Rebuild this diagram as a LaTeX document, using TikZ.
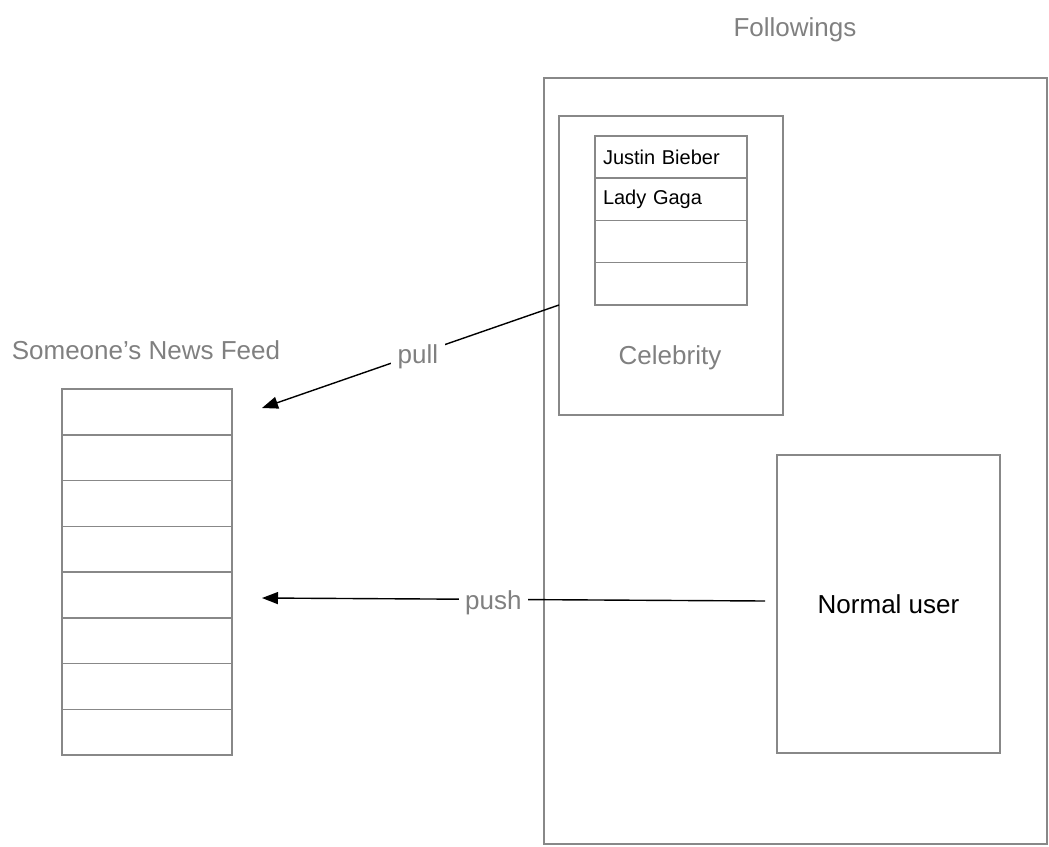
\documentclass[tikz,border=0pt]{standalone}
\usepackage{fontspec}
\setmainfont{Liberation Sans}
\usetikzlibrary{arrows.meta,positioning}
\definecolor{boxgray}{HTML}{888888}
\definecolor{textgray}{HTML}{808080}

\begin{document}
\begin{tikzpicture}[x=0.5pt,y=-0.5pt,
  box/.style={draw=boxgray, line width=0.75pt, inner sep=0pt, outer sep=0pt},
  graytext/.style={text=textgray, font=\fontsize{13}{15}\selectfont},
  feedrow/.style={box, minimum width=85pt, minimum height=22.875pt},
  celebrow/.style={box, minimum width=76pt, minimum height=21.125pt, text width=68pt, inner xsep=4pt, align=left, font=\fontsize{10}{12}\selectfont},
  flow/.style={-{Triangle[length=8pt,width=6pt]}, line width=0.7pt}]
\useasboundingbox (0,0) rectangle (1049,846);

% following side
\node[box, minimum width=251.5pt, minimum height=383pt] (followings) at (795.5,461) {};
\node[graytext] (followingsLabel) at (795,30) {Followings};
\node[box, minimum width=112pt, minimum height=149.5pt] (celeb) at (671,265.5) {};
\node[graytext] (celebLabel) at (670,358) {Celebrity};
\node[box, minimum width=111.5pt, minimum height=149pt, text depth=0pt, font=\fontsize{13}{15}\selectfont] (normal) at (888.5,604) {Normal user};

% celebrity list
\node[celebrow] (c1) at (671,157.1) {Justin Bieber};
\node[celebrow, below=0pt of c1] (c2) {Lady Gaga};
\node[celebrow, below=0pt of c2] (c3) {};
\node[celebrow, below=0pt of c3] (c4) {};

% news feed
\node[graytext] (feedLabel) at (146,350) {Someone’s News Feed};
\foreach \i in {1,...,8}
  \node[feedrow] (f\i) at (147,389+45.75*\i-22.875) {};

% pull / push
\coordinate (pullStart) at (559,305);
\coordinate (pullEnd) at (262,408);
\coordinate (pushStart) at (765,601);
\coordinate (pushEnd) at (262,598);
\draw[flow] (pullStart) -- node[graytext, pos=0.475, fill=white, yshift=-1.5pt] (pull) {pull} (pullEnd);
\draw[flow] (pushStart) -- node[graytext, pos=0.54, fill=white, yshift=-1.5pt] (push) {push} (pushEnd);
\end{tikzpicture}
\end{document}
